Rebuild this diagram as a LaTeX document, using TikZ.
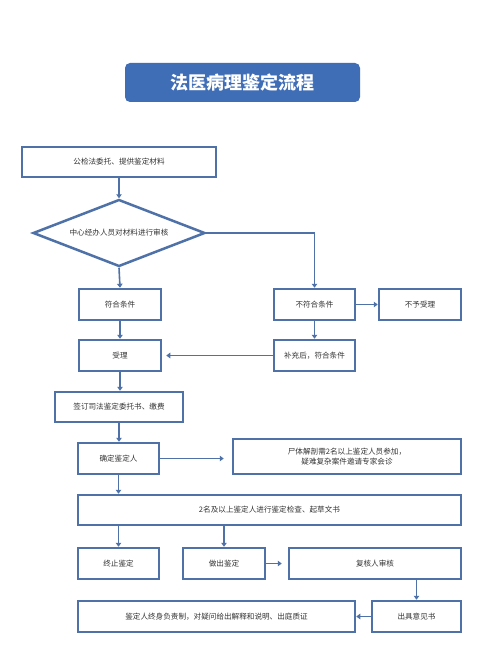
\documentclass[tikz,border=0pt]{standalone}
\usepackage{fontspec}
\setmainfont{Noto Sans CJK SC}
\usetikzlibrary{arrows.meta,shapes.geometric}
\definecolor{bd}{HTML}{4E71A8}
\definecolor{tb}{HTML}{3F6DB6}
\definecolor{tx}{HTML}{333333}
\begin{document}
\begin{tikzpicture}[x=1pt,y=-1pt,
  bx/.style={draw=bd,line width=2.5pt,fill=white,inner sep=0pt,font=\fontsize{7.6}{10}\selectfont,text=tx,align=center},
  ar/.style={draw=bd,line width=1.6pt,-{Triangle[length=4pt,width=5.5pt]}},
  ln/.style={draw=bd,line width=1.6pt}]
\useasboundingbox[fill=white] (0,0) rectangle (500,666);
% title
\node[fill=tb,rounded corners=5pt,minimum width=235pt,minimum height=39pt,text=white,font=\fontsize{18}{20}\selectfont\bfseries] (title) at (242.5,82.5) {法医病理鉴定流程};
% nodes
\node[bx,minimum width=194pt,minimum height=30pt] (n1) at (119,162) {公检法委托、提供鉴定材料};
\node[bx,diamond,aspect=5.2,minimum width=172pt,minimum height=67pt] (dia) at (119,233) {中心经办人员对材料进行审核};
\node[bx,minimum width=82pt,minimum height=31pt] (ok) at (120,304.5) {符合条件};
\node[bx,minimum width=81pt,minimum height=31pt] (nok) at (314.5,304.5) {不符合条件};
\node[bx,minimum width=82pt,minimum height=31pt] (rej) at (420,304.5) {不予受理};
\node[bx,minimum width=82pt,minimum height=31pt] (acc) at (120,355.5) {受理};
\node[bx,minimum width=81pt,minimum height=31pt] (sup) at (314.5,355.5) {补充后，符合条件};
\node[bx,minimum width=128pt,minimum height=30pt] (sign) at (119,407) {签订司法鉴定委托书、缴费};
\node[bx,minimum width=81pt,minimum height=31pt] (det) at (118.5,458.5) {确定鉴定人};
\node[bx,minimum width=228pt,minimum height=35pt] (aut) at (347,456.5) {尸体解剖需2名以上鉴定人员参加，\\疑难复杂案件邀请专家会诊};
\node[bx,minimum width=383pt,minimum height=30pt] (exam) at (269.5,510) {2名及以上鉴定人进行鉴定检查、起草文书};
\node[bx,minimum width=81pt,minimum height=31pt] (stop) at (118.5,563.5) {终止鉴定};
\node[bx,minimum width=82pt,minimum height=31pt] (make) at (224,563.5) {做出鉴定};
\node[bx,minimum width=172pt,minimum height=31pt] (rev) at (375,563.5) {复核人审核};
\node[bx,minimum width=89pt,minimum height=31pt] (opin) at (416.5,616.5) {出具意见书};
\node[bx,minimum width=277pt,minimum height=31pt] (resp) at (216.5,616.5) {鉴定人终身负责制，对疑问给出解释和说明、出庭质证};
% connectors
\draw[ar] (n1.south) -- (dia.north);
\draw[ar] (dia.south) -- (ok.north);
\draw[ar] (dia.east) -| (nok.north);
\draw[ar] (nok.east) -- (rej.west);
\draw[ar] (ok.south) -- (acc.north);
\draw[ar] (nok.south) -- (sup.north);
\draw[ar] (sup.west) -- ([xshift=4pt]acc.east);
\draw[ar] (acc.south) -- (acc.south|-sign.north);
\draw[ar] (sign.south) -- (sign.south|-det.north);
\draw[ar] (det.east) -- ([xshift=-8pt]det.east-|aut.west);
\draw[ar] (det.south) -- (det.south|-exam.north);
\draw[ar] (stop.north|-exam.south) -- (stop.north);
\draw[ar] (make.north|-exam.south) -- (make.north);
\draw[ar] (make.east) -- ([xshift=-6pt]rev.west);
\draw[ar] (opin.north|-rev.south) -- (opin.north);
\draw[ar] (opin.west) -- (resp.east);
\end{tikzpicture}
\end{document}
